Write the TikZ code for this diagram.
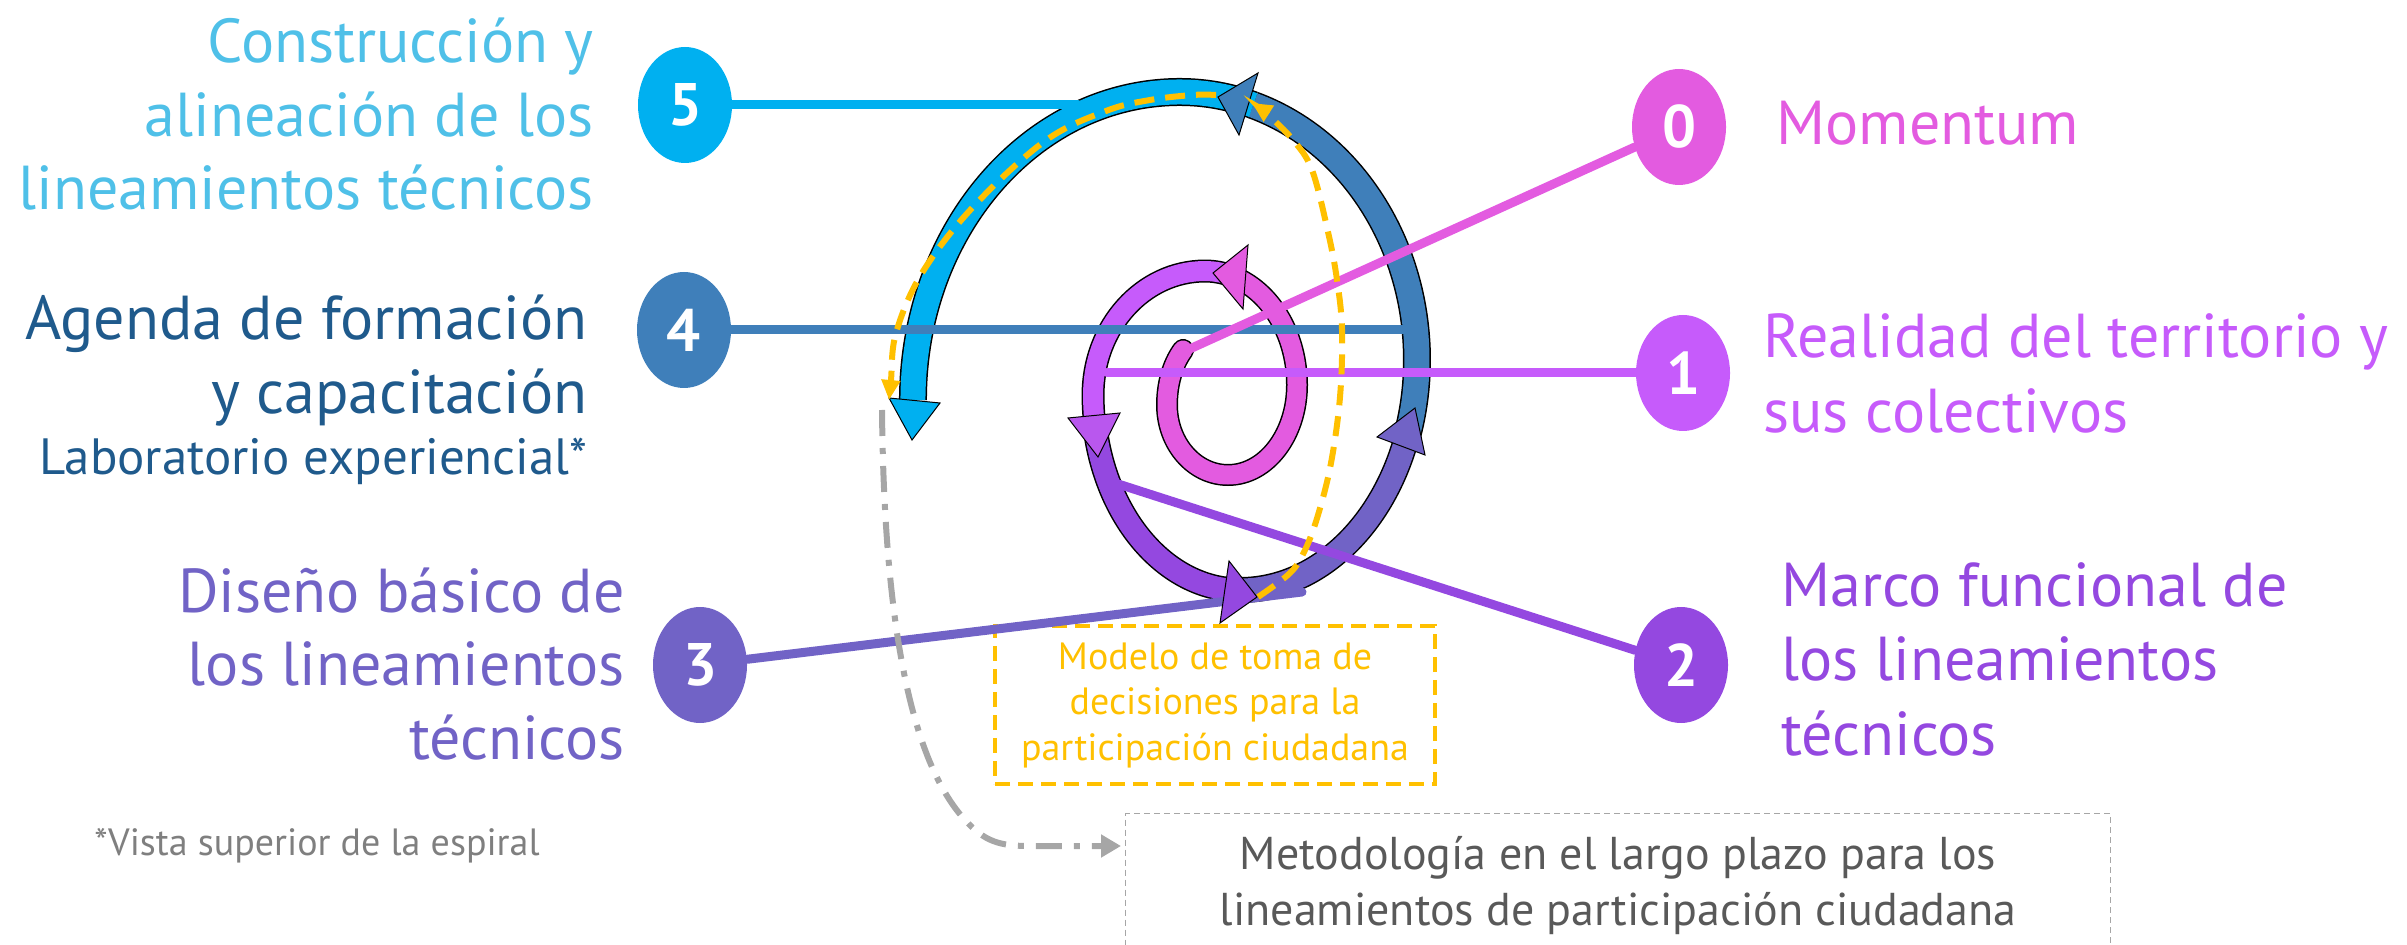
\documentclass[tikz,border=0pt]{standalone}
\usepackage{fontspec}
\setmainfont{PT Sans}
\usetikzlibrary{shapes.geometric,arrows.meta}
\definecolor{cCyan}{HTML}{00B0F0}
\definecolor{cCyanT}{HTML}{4FC0E8}
\definecolor{cSteel}{HTML}{3F7FBA}
\definecolor{cSteelT}{HTML}{1F5A8C}
\definecolor{cPink}{HTML}{E35BE0}
\definecolor{cViolet}{HTML}{C65BFB}
\definecolor{cVioletB}{HTML}{B957EE}
\definecolor{cPurple}{HTML}{9448E0}
\definecolor{cIndigo}{HTML}{7163C6}
\definecolor{cYellow}{HTML}{FFC000}
\definecolor{cGrayL}{HTML}{A6A6A6}
\definecolor{cGrayT}{HTML}{7F7F7F}
\definecolor{cGrayD}{HTML}{595959}
\tikzset{
  num/.style={shape=ellipse, minimum width=47pt, minimum height=58pt, inner sep=0pt, text=white, font=\bfseries\fontsize{30}{30}\selectfont},
  lbl/.style={inner sep=0pt, font=\fontsize{31}{37}\selectfont},
  sublbl/.style={inner sep=0pt, font=\fontsize{25.5}{30}\selectfont},
  link/.style={line width=4.5pt, line cap=round},
  outl/.style={line width=#1, black},
  tip/.style={draw=black, line width=0.5pt},
  ydash/.style={cYellow, line width=3pt, dash pattern=on 10pt off 5.5pt, -{Triangle[length=10pt,width=9pt]}}
}
% spiral segments (y axis points down)
\newcommand\segPink{(1183,350) .. controls (1172,365) and (1167,385) .. (1167,405)
  arc[start angle=180, end angle=90, x radius=61, y radius=70]
  arc[start angle=90, end angle=0, x radius=69, y radius=90]
  arc[start angle=0, end angle=-70, x radius=92, y radius=114]}
\newcommand\segViolet{(1236.5,277.9)
  arc[start angle=-70, end angle=-90, x radius=92, y radius=114]
  arc[start angle=-90, end angle=-180, x radius=112, y radius=124]
  arc[start angle=180, end angle=173, x radius=147, y radius=195]}
\newcommand\segPurple{(1094.1,418.8)
  arc[start angle=173, end angle=92, x radius=147, y radius=195]}
\newcommand\segIndigo{(1234.9,589.9)
  arc[start angle=92, end angle=90, x radius=147, y radius=195]
  arc[start angle=90, end angle=20, x radius=177, y radius=230]}
\newcommand\segSteel{(1406.3,438.7)
  arc[start angle=20, end angle=0, x radius=177, y radius=230]
  arc[start angle=0, end angle=-72, x radius=237, y radius=268]}
\newcommand\segCyan{(1253.2,105.1)
  arc[start angle=-72, end angle=-90, x radius=237, y radius=268]
  arc[start angle=-90, end angle=-180, x radius=267, y radius=308]}
\begin{document}
\begin{tikzpicture}[x=0.5pt, y=-0.5pt]
\useasboundingbox (0,0) rectangle (2407,945);

% circles
\node[num, fill=cCyan]   (c5) at (685,105) {5};
\node[num, fill=cSteel]  (c4) at (684,330) {4};
\node[num, fill=cPink]   (c0) at (1679,127) {0};
\node[num, fill=cViolet] (c1) at (1683,373) {1};
\node[num, fill=cPurple] (c2) at (1681,665) {2};
\node[num, fill=cIndigo] (c3) at (700,665) {3};

% labels
\node[lbl, anchor=base east, text=cCyanT] (t5a) at (594,63) {Construcción y};
\node[lbl, anchor=base east, text=cCyanT] (t5b) at (594,137) {alineación de los};
\node[lbl, anchor=base east, text=cCyanT] (t5c) at (594,210) {lineamientos técnicos};
\node[lbl, anchor=base east, text=cSteelT] (t4a) at (588,340) {Agenda de formación};
\node[lbl, anchor=base east, text=cSteelT] (t4b) at (588,414) {y capacitación};
\node[sublbl, anchor=base east, text=cSteelT] (t4c) at (588,475) {Laboratorio experiencial*};
\node[lbl, anchor=base east, text=cIndigo] (t3a) at (625,612) {Diseño básico de};
\node[lbl, anchor=base east, text=cIndigo] (t3b) at (625,685) {los lineamientos};
\node[lbl, anchor=base east, text=cIndigo] (t3c) at (625,759) {técnicos};
\node[lbl, anchor=base west, text=cPink] (t0) at (1776,145) {Momentum};
\node[lbl, anchor=base west, text=cViolet] (t1a) at (1763,358) {Realidad del territorio y};
\node[lbl, anchor=base west, text=cViolet] (t1b) at (1763,433) {sus colectivos};
\node[lbl, anchor=base west, text=cPurple] (t2a) at (1781,607) {Marco funcional de};
\node[lbl, anchor=base west, text=cPurple] (t2b) at (1781,680) {los lineamientos};
\node[lbl, anchor=base west, text=cPurple] (t2c) at (1781,755) {técnicos};
\node[inner sep=0pt, anchor=base west, text=cGrayT, font=\fontsize{19}{22}\selectfont] (fn) at (94,855) {*Vista superior de la espiral};

% boxes
\node[draw=cYellow, line width=2pt, dash pattern=on 7.5pt off 4pt, minimum width=220pt, minimum height=79pt,
      text=cYellow, align=center, font=\fontsize{19}{22.75}\selectfont] (ymodel) at (1215,705)
      {Modelo de toma de\\decisiones para la\\participación ciudadana};
\node[draw=cGrayL, line width=0.6pt, dash pattern=on 3pt off 2pt, minimum width=492.5pt, minimum height=72pt,
      text=cGrayD, align=center, font=\fontsize{23}{28}\selectfont, anchor=north west] (meto) at (1125,813)
      {Metodología en el largo plazo para los\\lineamientos de participación ciudadana};

% spiral outlines
\draw[outl=11pt, line cap=round] \segPink;
\draw[outl=11.5pt] \segViolet;
\draw[outl=12.5pt] \segPurple;
\draw[outl=13pt] \segIndigo;
\draw[outl=14pt] \segSteel;
\draw[outl=14pt] \segCyan;
% spiral fills
\draw[cPink, line width=9.5pt, line cap=round] \segPink;
\draw[cViolet, line width=10pt] \segViolet;
\draw[cPurple, line width=11pt] \segPurple;
\draw[cIndigo, line width=11.5pt] \segIndigo;
\draw[cSteel, line width=12.5pt] \segSteel;
\draw[cCyan, line width=12.5pt] \segCyan;

% link lines
\coordinate (e5) at (1078,105);
\coordinate (e4) at (1404,330);
\coordinate (e0) at (1183,352);
\coordinate (e1) at (1107,373);
\coordinate (e2) at (1115,483);
\coordinate (e3) at (1302,592);
\draw[link, cCyan] (c5) -- (e5);
\draw[link, cSteel] (c4) -- (e4);
\draw[link, cPink] (e0) -- (c0);
\draw[link, cViolet] (e1) -- (c1);
\draw[link, cPurple] (e2) -- (c2);
\draw[link, cIndigo] (c3) -- (e3);

% spiral arrowheads
\draw[tip, fill=cPink] (1213,273) -- (1248,245) -- (1243,309) -- cycle;
\draw[tip, fill=cVioletB] (1068,418) -- (1120,413) -- (1098,457) -- cycle;
\draw[tip, fill=cPurple] (1229,561) -- (1257,597) -- (1220,623) -- cycle;
\draw[tip, fill=cIndigo] (1377,437) -- (1415,408) -- (1425,455) -- cycle;
\draw[tip, fill=cSteel] (1218,97) -- (1258,73) -- (1239,135) -- cycle;
\draw[tip, fill=cCyan] (889,398) -- (940,403) -- (912,440) -- cycle;

% yellow dashed paths
\draw[ydash] plot[smooth, tension=0.6] coordinates {(1258,597) (1290,573) (1305,550) (1318,515) (1331,463) (1340,397) (1342,330) (1337,280) (1328,232) (1312,170) (1293,140) (1268,115) (1252,103)};
\draw[ydash] plot[smooth, tension=0.6] coordinates {(1216,95) (1193,95) (1150,100) (1106,111) (1045,141) (973,207) (922,273) (896,333) (891,380) (889,400)};

% gray dash-dot arrow
\coordinate (gS) at (882,410);
\coordinate (gE) at (1121,846);
\draw[cGrayL, line width=3pt, dash pattern=on 13pt off 6pt on 3pt off 6pt, -{Triangle[length=10pt,width=11pt]}]
  (gS) .. controls (884,620) and (910,760) .. (965,820) .. controls (985,842) and (1000,846) .. (1030,846) -- (gE);
\end{tikzpicture}
\end{document}
